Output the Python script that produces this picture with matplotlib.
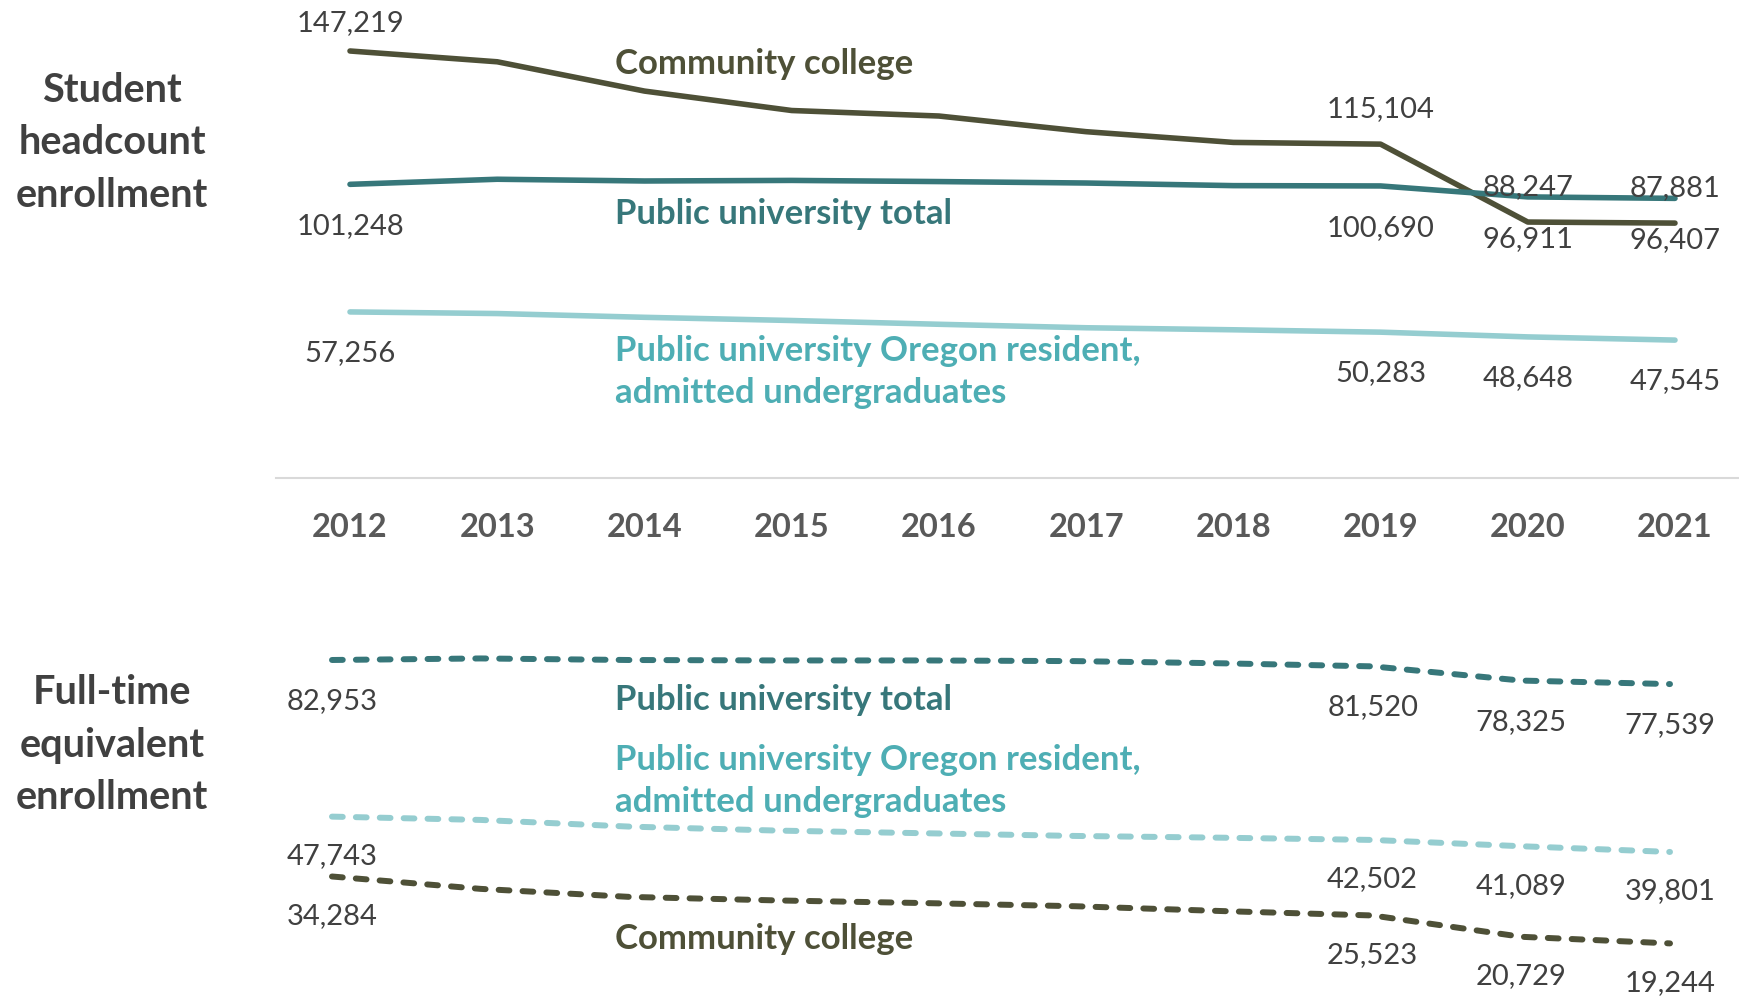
import matplotlib
matplotlib.use('Agg')
import matplotlib.pyplot as plt

plt.rcParams['font.family'] = ['Lato', 'DejaVu Sans']

# ---------------------------------------------------------------------------
# data
years = list(range(2012, 2022))

# student headcount enrollment
hc_cc = [147219, 143500, 133400, 126700, 124800, 119400, 115700, 115104, 88247, 87881]
hc_pu = [101248, 103000, 102400, 102600, 102200, 101700, 100800, 100690, 96911, 96407]
hc_or = [57256, 56700, 55400, 54300, 53000, 51800, 51100, 50283, 48648, 47545]

# full-time equivalent enrollment
fte_pu = [82953, 83300, 82950, 82850, 82850, 82700, 82200, 81520, 78325, 77539]
fte_or = [47743, 47000, 45500, 44600, 44000, 43400, 43000, 42502, 41089, 39801]
fte_cc = [34284, 31500, 29700, 28900, 28300, 27600, 26500, 25523, 20729, 19244]

# which years get a value label
label_idx = [0, 7, 8, 9]

name_cc = 'Community college'
name_pu = 'Public university total'
name_or = 'Public university Oregon resident,\nadmitted undergraduates'
row_titles = ['Student\nheadcount\nenrollment', 'Full-time\nequivalent\nenrollment']

# colours
c_cc = '#4e5037'
c_pu = '#37777a'
c_or_line = '#95cdd0'
c_or_text = '#4eaeb4'
c_num = '#404040'
c_year = '#595959'

# ---------------------------------------------------------------------------
W, H = 1740, 998
fig = plt.figure(figsize=(W / 100, H / 100), dpi=100)


def px_axes(left, top, right, bottom):
    return fig.add_axes([left / W, 1 - bottom / H, (right - left) / W, (bottom - top) / H])


def fmt(v):
    return '{:,}'.format(v)


def label_points(ax, vals, offsets):
    # offsets in points, positive = below the point
    for i, off in zip(label_idx, offsets):
        ax.annotate(fmt(vals[i]), (years[i], vals[i]), xytext=(0, -off),
                    textcoords='offset points', ha='center', va='center',
                    fontsize=21, color=c_num, annotation_clip=False)


# ---- top panel: headcount
ax1 = px_axes(276, 0, 1740, 478)
ax1.set_xlim(2012 - 74 / 147.22, 2021 + 65 / 147.22)
ax1.set_ylim(0, 164800)
for vals, col in [(hc_cc, c_cc), (hc_pu, c_pu), (hc_or, c_or_line)]:
    ax1.plot(years, vals, color=col, lw=4, solid_capstyle='round', solid_joinstyle='round')

label_points(ax1, hc_cc, [-20, -25.5, -25.5, -25.5])
label_points(ax1, hc_pu, [30, 30, 30, 30])
label_points(ax1, hc_or, [29.5, 29.5, 29.5, 29.5])

for s in ['top', 'right', 'left']:
    ax1.spines[s].set_visible(False)
ax1.spines['bottom'].set_color('#d9d9d9')
ax1.spines['bottom'].set_linewidth(1.5)
ax1.set_yticks([])
ax1.set_xticks(years)
ax1.set_xticklabels([str(y) for y in years], fontsize=23.5, fontweight='bold', color=c_year)
ax1.tick_params(axis='x', length=0, pad=25)

# ---- bottom panel: FTE
ax2 = px_axes(276, 560, 1740, 998)
ax2.set_xlim(2012 - 56 / 148.67, 2021 + 70 / 148.67)
ax2.set_ylim(6970, 105430)
dash = (0, (1.8, 2.2))
for vals, col in [(fte_pu, c_pu), (fte_or, c_or_line), (fte_cc, c_cc)]:
    ax2.plot(years, vals, color=col, lw=4.3, linestyle=dash, dash_capstyle='round',
             solid_joinstyle='round', clip_on=False)

label_points(ax2, fte_pu, [29.5, 29.5, 29.5, 29.5])
label_points(ax2, fte_or, [28.5, 28.5, 28.5, 28.5])
label_points(ax2, fte_cc, [28.5, 28.5, 28.5, 28.5])
ax2.axis('off')

# ---- series names
name_kw = dict(fontsize=25, fontweight='bold', va='center', linespacing=1.35)
fig.text(615 / W, 1 - 64 / H, name_cc, color=c_cc, **name_kw)
fig.text(615 / W, 1 - 214 / H, name_pu, color=c_pu, **name_kw)
fig.text(615 / W, 1 - 372 / H, name_or, color=c_or_text, **name_kw)
fig.text(615 / W, 1 - 700 / H, name_pu, color=c_pu, **name_kw)
fig.text(615 / W, 1 - 781 / H, name_or, color=c_or_text, **name_kw)
fig.text(615 / W, 1 - 939 / H, name_cc, color=c_cc, **name_kw)

# ---- row titles
title_kw = dict(fontsize=28.5, fontweight='bold', color=c_num, ha='center', va='center',
                linespacing=1.53)
fig.text(112 / W, 1 - 143 / H, row_titles[0], **title_kw)
fig.text(112 / W, 1 - 745 / H, row_titles[1], **title_kw)

fig.savefig('out.png', dpi=100)
